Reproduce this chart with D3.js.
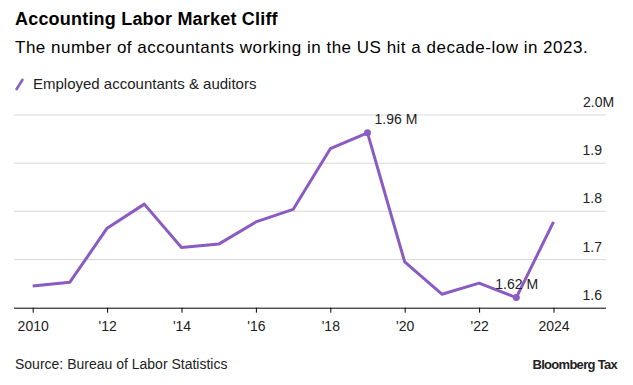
<!DOCTYPE html>
<html><head><meta charset="utf-8">
<script src="https://cdn.jsdelivr.net/npm/d3@7"></script>
<style>
body{margin:0;background:#fff;}
text{font-family:"Helvetica Neue",Arial,"Liberation Sans",sans-serif;}
</style></head>
<body><svg id="c" width="633" height="385"></svg>
<script>
const years = [2010,2011,2012,2013,2014,2015,2016,2017,2018,2019,2020,2021,2022,2023,2024];
const values = [1.645,1.653,1.765,1.815,1.725,1.732,1.778,1.804,1.930,1.963,1.695,1.628,1.651,1.621,1.778];
const yTicks = [1.6,1.7,1.8,1.9,2.0];
const xTicks = [2010,2012,2014,2016,2018,2020,2022,2024];
const xTickLabels = ["2010","'12","'14","'16","'18","'20","'22","2024"];
const annotations = [{year:2019,value:1.963,label:"1.96 M",dx:7,dy:-9},{year:2023,value:1.621,label:"1.62 M",dx:-21,dy:-9}];

const color = "#8a5cc2";
const svg = d3.select("#c");
const x = d3.scaleLinear().domain([2010,2024]).range([32.7,553.5]);
const y = d3.scaleLinear().domain([1.6,2.0]).range([307.7,115]);
const left = 14, right = 606;

svg.append("text").attr("x",15).attr("y",25).attr("font-size",18).attr("font-weight","bold").attr("fill","#000").attr("letter-spacing","0.2").text("Accounting Labor Market Cliff");
svg.append("text").attr("x",15).attr("y",53).attr("font-size",17).attr("fill","#000").attr("letter-spacing","0.5").text("The number of accountants working in the US hit a decade-low in 2023.");
svg.append("line").attr("x1",16).attr("y1",90).attr("x2",23).attr("y2",79).attr("stroke",color).attr("stroke-width",2.5);
svg.append("text").attr("x",33).attr("y",89).attr("font-size",15).attr("fill","#222").text("Employed accountants & auditors");

// grid
svg.append("g").selectAll("line").data(yTicks.slice(1)).join("line")
  .attr("x1",left).attr("x2",right).attr("y1",d=>y(d)).attr("y2",d=>y(d))
  .attr("stroke","#d9d9d9").attr("stroke-width",1);
const yl = svg.append("g").selectAll("text").data(yTicks).join("text")
  .attr("x",602).attr("y",d=>y(d)-8).attr("text-anchor","end").attr("font-size",14).attr("fill","#222")
  .text(d=>d.toFixed(1));
yl.filter(d=>d===2.0).append("tspan").text("M");
yl.filter(d=>d===2.0).attr("text-anchor","start").attr("x",583);

// x axis
const xa = svg.append("g").attr("transform",`translate(0,${y(1.6)})`)
  .call(d3.axisBottom(x).tickValues(xTicks).tickSize(5).tickPadding(8).tickFormat((d,i)=>xTickLabels[i]));
xa.select(".domain").attr("d",`M${left},0.5H${right}`).attr("stroke","#000");
xa.selectAll(".tick line").attr("stroke","#000");
xa.selectAll(".tick text").attr("font-size",14).attr("fill","#222").attr("font-family","\"Helvetica Neue\",Arial,\"Liberation Sans\",sans-serif");

// line
const line = d3.line().x((d,i)=>x(years[i])).y(d=>y(d));
svg.append("path").datum(values).attr("d",line).attr("fill","none").attr("stroke",color).attr("stroke-width",3).attr("stroke-linejoin","round");

svg.append("g").selectAll("circle").data(annotations).join("circle")
  .attr("cx",d=>x(d.year)).attr("cy",d=>y(d.value)).attr("r",3.5).attr("fill",color);
svg.append("g").selectAll("text").data(annotations).join("text")
  .attr("x",d=>x(d.year)+d.dx).attr("y",d=>y(d.value)+d.dy)
  .attr("font-size",14).attr("fill","#222").text(d=>d.label);

svg.append("text").attr("x",15).attr("y",369).attr("font-size",14).attr("fill","#222").text("Source: Bureau of Labor Statistics");
svg.append("text").attr("x",617).attr("y",369).attr("text-anchor","end").attr("font-size",13).attr("font-weight","bold").attr("fill","#222")
  .attr("font-family","\"Liberation Sans Narrow\",\"Arial Narrow\",sans-serif").attr("letter-spacing","-0.7").text("Bloomberg Tax");
</script></body></html>
